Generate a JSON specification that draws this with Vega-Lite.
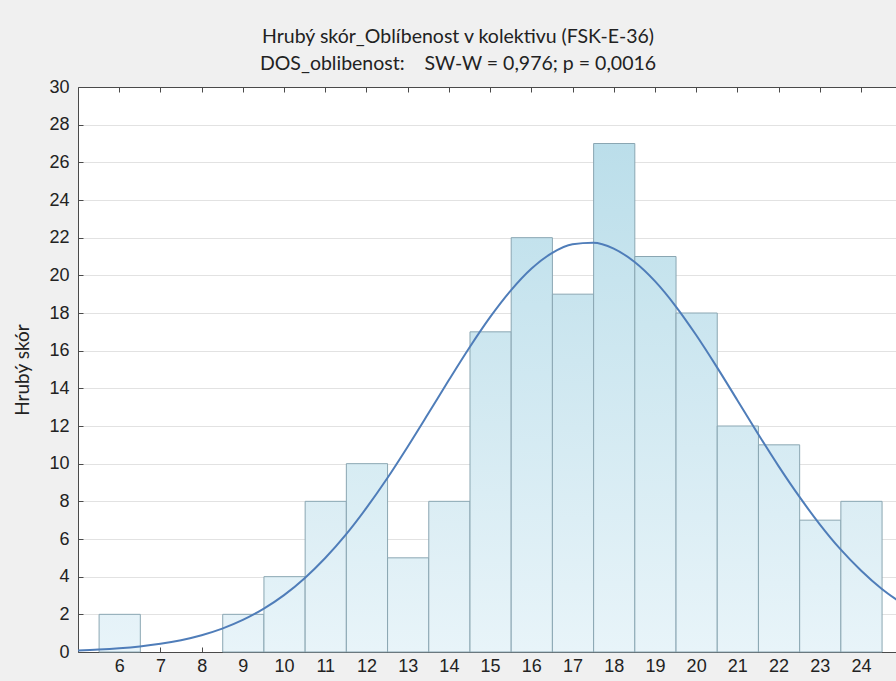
{
  "$schema": "https://vega.github.io/schema/vega-lite/v6.json",
  "autosize": {"type": "none"},
  "padding": {"left": 78, "top": 87, "right": 0, "bottom": 29},
  "width": 818,
  "height": 565,
  "background": "#f0f0f0",
  "config": {
    "view": {"stroke": null, "fill": "white"},
    "axis": {
      "domainColor": "#4a4a4a",
      "tickColor": "#4a4a4a",
      "labelColor": "#222222",
      "labelFont": "Liberation Sans",
      "labelFontSize": 18,
      "titleFont": "Lato",
      "titleFontWeight": "normal",
      "titleColor": "#222222",
      "titleFontSize": 19
    }
  },
  "title": {
    "text": ["Hrubý skór_Oblíbenost v kolektivu (FSK-E-36)", "DOS_oblibenost:\u00a0\u00a0\u00a0 SW-W = 0,976; p = 0,0016"],
    "font": "Lato",
    "fontSize": 19.5,
    "fontWeight": "normal",
    "color": "#222222",
    "lineHeight": 27,
    "offset": 4,
    "anchor": "middle",
    "dx": -29
  },
  "datasets": {
    "hist": [
      {"score": 6, "count": 2},
      {"score": 9, "count": 2},
      {"score": 10, "count": 4},
      {"score": 11, "count": 8},
      {"score": 12, "count": 10},
      {"score": 13, "count": 5},
      {"score": 14, "count": 8},
      {"score": 15, "count": 17},
      {"score": 16, "count": 22},
      {"score": 17, "count": 19},
      {"score": 18, "count": 27},
      {"score": 19, "count": 21},
      {"score": 20, "count": 18},
      {"score": 21, "count": 12},
      {"score": 22, "count": 11},
      {"score": 23, "count": 7},
      {"score": 24, "count": 8}
    ],
    "curve": [
      {"x": 5, "y": 0.083}, {"x": 5.5, "y": 0.129}, {"x": 6, "y": 0.197}, {"x": 6.5, "y": 0.295},
      {"x": 7, "y": 0.435}, {"x": 7.5, "y": 0.629}, {"x": 8, "y": 0.893}, {"x": 8.5, "y": 1.244},
      {"x": 9, "y": 1.705}, {"x": 9.5, "y": 2.29}, {"x": 10, "y": 3.02}, {"x": 10.5, "y": 3.92},
      {"x": 11, "y": 4.99}, {"x": 11.5, "y": 6.23}, {"x": 12, "y": 7.65}, {"x": 12.5, "y": 9.21},
      {"x": 13, "y": 10.9}, {"x": 13.5, "y": 12.66}, {"x": 14, "y": 14.44}, {"x": 14.5, "y": 16.17},
      {"x": 15, "y": 17.78}, {"x": 15.5, "y": 19.19}, {"x": 16, "y": 20.35}, {"x": 16.5, "y": 21.18},
      {"x": 17, "y": 21.65}, {"x": 17.5, "y": 21.73}, {"x": 18, "y": 21.42}, {"x": 18.5, "y": 20.72},
      {"x": 19, "y": 19.69}, {"x": 19.5, "y": 18.37}, {"x": 20, "y": 16.83}, {"x": 20.5, "y": 15.14},
      {"x": 21, "y": 13.37}, {"x": 21.5, "y": 11.59}, {"x": 22, "y": 9.87}, {"x": 22.5, "y": 8.26},
      {"x": 23, "y": 6.78}, {"x": 23.5, "y": 5.46}, {"x": 24, "y": 4.33}, {"x": 24.5, "y": 3.36},
      {"x": 25, "y": 2.57}
    ]
  },
  "layer": [
    {
      "data": {"name": "hist"},
      "mark": {
        "type": "bar",
        "binSpacing": 0,
        "stroke": "#8aa6b2",
        "strokeWidth": 1,
        "fillOpacity": 1,
        "fill": {"expr": "{gradient: 'linear', x1: 0, y1: 0, x2: 0, y2: 1, stops: [{offset: 0, color: 'rgb(' + round(232 - 50 * datum.count / 30) + ',' + round(244 - 25 * datum.count / 30) + ',' + round(249 - 17 * datum.count / 30) + ')'}, {offset: 1, color: 'rgb(232,244,249)'}]}"}
      },
      "encoding": {
        "x": {
          "field": "score",
          "type": "quantitative",
          "bin": {"step": 1, "anchor": 0.5, "extent": [5.5, 25.5], "nice": false},
          "scale": {"domain": [5, 24.85], "nice": false, "zero": false},
          "axis": {
            "orient": "bottom",
            "title": null,
            "values": [6, 7, 8, 9, 10, 11, 12, 13, 14, 15, 16, 17, 18, 19, 20, 21, 22, 23, 24],
            "format": "d",
            "tickSize": -5,
            "labelPadding": 10,
            "grid": false,
            "labelFlush": false,
            "labelOverlap": false
          }
        },
        "y": {
          "field": "count",
          "type": "quantitative",
          "scale": {"domain": [0, 30], "nice": false},
          "axis": {
            "title": "Hrubý skór",
            "values": [0, 2, 4, 6, 8, 10, 12, 14, 16, 18, 20, 22, 24, 26, 28, 30],
            "tickSize": -5,
            "labelPadding": 14,
            "titlePadding": 16,
            "grid": true,
            "gridColor": "#e2e2e2",
            "labelFlush": false,
            "labelOverlap": false
          }
        }
      }
    },
    {
      "data": {"name": "curve"},
      "mark": {"type": "line", "color": "#4f7db9", "strokeWidth": 2, "interpolate": "monotone", "clip": true},
      "encoding": {
        "x": {
          "field": "x",
          "type": "quantitative",
          "axis": {
            "orient": "top",
            "title": null,
            "labels": false,
            "values": [6, 7, 8, 9, 10, 11, 12, 13, 14, 15, 16, 17, 18, 19, 20, 21, 22, 23, 24],
            "tickSize": -5,
            "grid": false
          }
        },
        "y": {
          "field": "y",
          "type": "quantitative",
          "axis": {
            "title": "Hrubý skór",
            "values": [0, 2, 4, 6, 8, 10, 12, 14, 16, 18, 20, 22, 24, 26, 28, 30],
            "tickSize": -5,
            "labelPadding": 14,
            "titlePadding": 16,
            "grid": true,
            "gridColor": "#e2e2e2",
            "labelFlush": false,
            "labelOverlap": false
          }
        }
      }
    }
  ],
  "resolve": {"axis": {"x": "independent"}}
}
